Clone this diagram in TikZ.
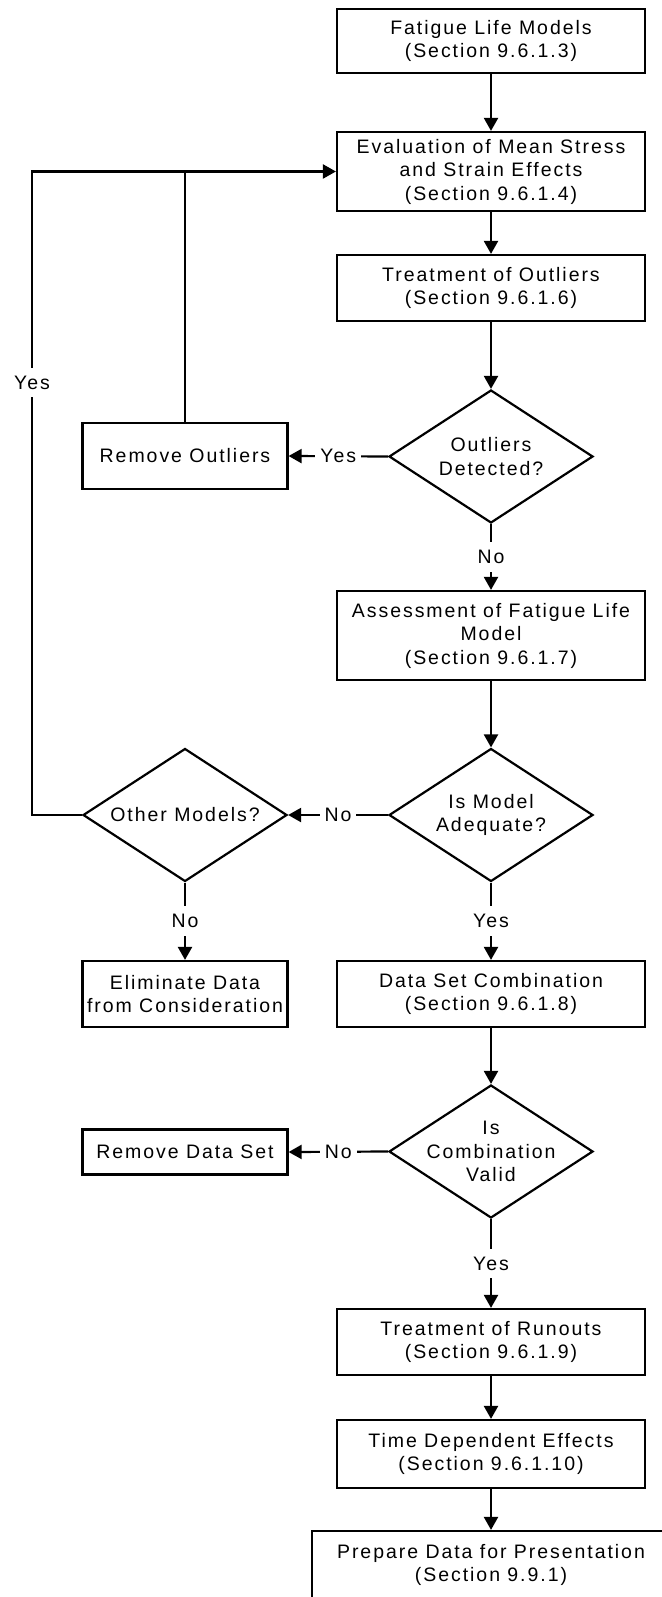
\documentclass[tikz,border=0pt]{standalone}
\usepackage{fontspec}
\setmainfont{Liberation Sans}[LetterSpace=10]
\usepackage{tikz}
\usetikzlibrary{shapes,calc}
\usetikzlibrary{arrows.meta,positioning}

\begin{document}
\begin{tikzpicture}[x=1pt,y=-1pt,
    every node/.style={font=\fontsize{19.5}{23.5}\selectfont},
    block/.style={draw,line width=2.2pt,inner sep=0pt,align=center,minimum width=308pt,minimum height=66pt},
    sideblock/.style={block,minimum width=205pt},
    decision/.style={draw,diamond,line width=2.2pt,inner sep=0pt,minimum width=204pt,minimum height=133pt},
    flow/.style={line width=2.2pt,-{Triangle[length=13pt,width=14pt]}},
    tag/.style={fill=white,inner xsep=5pt,inner ysep=8pt}]
                \def\mx{491}
                \def\lx{185}
                \useasboundingbox[fill=white] (0,0) rectangle (661,1597);
                \coordinate (loop) at (32,171.5);
                %Main column
                \node[block,minimum height=64pt] (fatigue) at (\mx,41) {Fatigue Life Models\\(Section 9.6.1.3)};
                \node[block,minimum height=79pt] (evaluation) at (\mx,171.5) {Evaluation of Mean Stress\\and Strain Effects\\(Section 9.6.1.4)};
                \node[block] (outliers) at (\mx,288) {Treatment of Outliers\\(Section 9.6.1.6)};
                \node[decision] (detect) at (\mx,456.5) {};
                \node[align=center] (detect-q) at (detect) {Outliers\\Detected?};
                \node[block,minimum height=89pt] (assess) at (\mx,635.5) {Assessment of Fatigue Life\\Model\\(Section 9.6.1.7)};
                \node[decision] (adequate) at (\mx,815) {};
                \node[align=center] (adequate-q) at (adequate) {Is Model\\Adequate?};
                \node[block] (combo) at (\mx,994) {Data Set Combination\\(Section 9.6.1.8)};
                \node[decision] (valid) at (\mx,1151.5) {};
                \node[align=center] (valid-q) at (valid) {Is\\Combination\\Valid};
                \node[block] (runouts) at (\mx,1342) {Treatment of Runouts\\(Section 9.6.1.9)};
                \node[block,minimum height=68pt] (timedep) at (\mx,1454) {Time Dependent Effects\\(Section 9.6.1.10)};
                \node[block,minimum width=358pt,minimum height=68pt] (prepare) at (\mx,1565) {Prepare Data for Presentation\\(Section 9.9.1)};
                %Side column
                \node[sideblock] (removeout) at (\lx,456) {Remove Outliers};
                \node[decision] (others) at (\lx,815) {};
                \node (others-q) at (others) {Other Models?};
                \node[sideblock] (eliminate) at (\lx,994) {Eliminate Data\\from Consideration};
                \node[sideblock,minimum height=45pt] (removeset) at (\lx,1152) {Remove Data Set};
                %Main flow
                \draw[flow] (fatigue) -- (evaluation);
                \draw[flow] (evaluation) -- (outliers);
                \draw[flow] (outliers) -- (detect);
                \draw[flow] (detect) -- node[tag]{No} (assess);
                \draw[flow] (assess) -- (adequate);
                \draw[flow] (adequate) -- node[tag]{Yes} (combo);
                \draw[flow] (combo) -- (valid);
                \draw[flow] (valid) -- node[tag]{Yes} (runouts);
                \draw[flow] (runouts) -- (timedep);
                \draw[flow] (timedep) -- (prepare);
                %Branches
                \draw[flow] (detect.west) -- node[tag]{Yes} (removeout.east);
                \draw[flow] (adequate.west) -- node[tag]{No} (others.east);
                \draw[flow] (others) -- node[tag]{No} (eliminate);
                \draw[flow] (valid.west) -- node[tag]{No} (removeset.east);
                %Loops back
                \draw[line width=2.2pt] (removeout.north) -- (removeout.north |- loop);
                \draw[flow] (others.west) -| (loop) node[tag,pos=0.836]{Yes} -- (evaluation.west);
            \end{tikzpicture}
\end{document}
